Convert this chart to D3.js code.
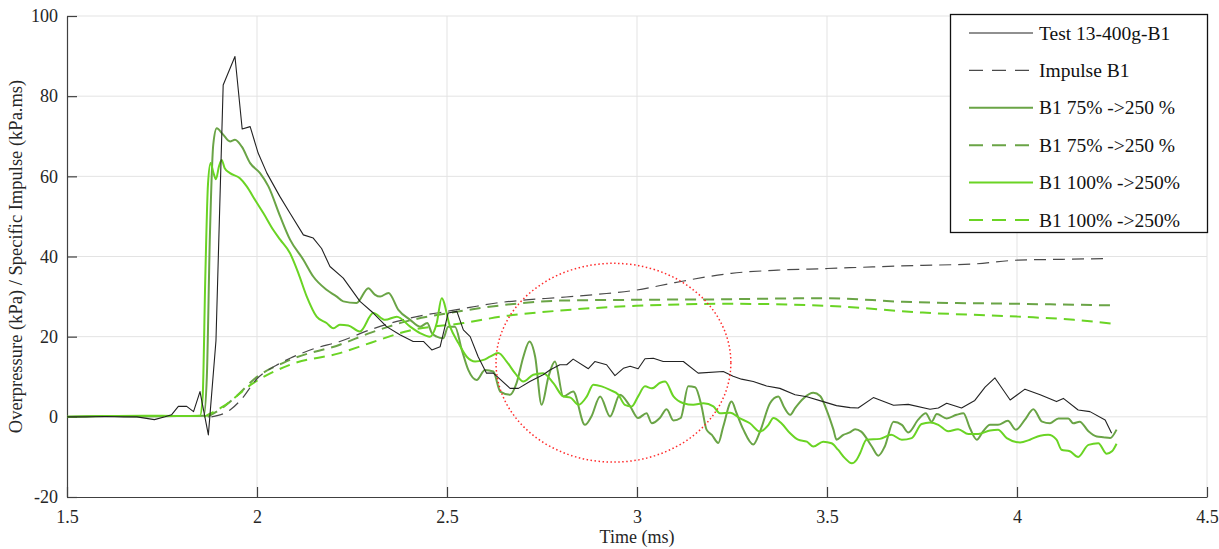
<!DOCTYPE html>
<html>
<head>
<meta charset="utf-8">
<script src="https://cdn.jsdelivr.net/npm/d3@7"></script>
<style>
  html, body { margin: 0; padding: 0; background: #fff; }
  svg { display: block; }
  svg text { font-family: "Liberation Serif", Tinos, "Times New Roman", "DejaVu Serif", serif; }
</style>
</head>
<body>
<svg id="chart" width="1219" height="549"></svg>
<script>
// Overpressure records (kPa) and specific impulse (kPa.ms) against time (ms)
const testB1 = [
  [1.5,0],[1.55,0],[1.6,0.1],[1.65,0],[1.684,0],[1.73,-0.7],[1.758,0],[1.775,0.5],[1.793,2.6],
  [1.815,2.6],[1.833,1.3],[1.85,6.3],[1.872,-4.5],[1.892,19],[1.911,82.8],[1.942,89.9],[1.961,71.8],
  [1.982,72.4],[2.003,65.8],[2.026,60.8],[2.06,55],[2.087,50.8],[2.122,45.4],[2.148,44.6],[2.17,42],
  [2.192,37.5],[2.227,34.6],[2.271,28.8],[2.306,25.9],[2.341,22.5],[2.376,20.5],[2.411,18.8],
  [2.438,18.8],[2.46,16.7],[2.482,17.5],[2.503,25.9],[2.526,26.3],[2.543,21.7],[2.561,20],
  [2.582,15],[2.604,10.9],[2.622,10.9],[2.666,7.1],[2.688,7.1],[2.718,8.8],[2.753,10.5],
  [2.771,11.7],[2.797,13],[2.815,13],[2.832,14.4],[2.872,12],[2.889,13.8],[2.92,13],[2.942,10.3],
  [2.964,12.1],[2.982,12.6],[3.003,12],[3.021,14.5],[3.043,14.6],[3.069,13.8],[3.122,13.8],
  [3.161,10.9],[3.227,11.3],[3.253,10.1],[3.275,9.4],[3.306,8.8],[3.341,7.7],[3.376,7.1],
  [3.416,5.5],[3.447,5],[3.49,3.8],[3.525,2.8],[3.561,2.3],[3.582,2.2],[3.622,4.8],[3.675,2.9],
  [3.714,3.1],[3.771,1.9],[3.793,2.2],[3.815,3.4],[3.854,2.2],[3.889,4.1],[3.916,7.4],[3.942,9.7],
  [3.982,4.2],[4.021,6.9],[4.061,5.5],[4.104,3.8],[4.122,4.6],[4.161,1.7],[4.192,1.3],[4.232,-0.8],
  [4.249,-4.1]
];

const impulseB1 = [
  [1.88,0],[1.929,1.7],[1.96,4.5],[2.0,9.5],[2.05,12.8],[2.087,14.6],[2.15,17],[2.218,18.8],
  [2.3,21.8],[2.368,23.8],[2.43,25.2],[2.5,26.3],[2.56,27.3],[2.63,28.4],[2.7,29.1],[2.8,29.8],
  [2.9,30.6],[2.997,31.6],[3.1,33.5],[3.248,35.8],[3.37,36.6],[3.5,37],[3.62,37.4],[3.752,37.8],
  [3.88,38.1],[4.003,39.1],[4.12,39.3],[4.244,39.5]
];

const sim75 = [
  [1.5,0],[1.6,0.2],[1.7,0.1],[1.8,0.2],[1.86,0.3],[1.868,10],[1.876,45],[1.885,68],[1.894,72],
  [1.91,70.5],[1.929,68.7],[1.942,69.1],[1.96,67.4],[1.982,63.3],[2.008,60.8],[2.03,57.5],
  [2.061,50],[2.087,44.2],[2.122,39.2],[2.148,35],[2.183,31.7],[2.21,30],[2.227,28.8],[2.262,28.4],
  [2.293,32.1],[2.31,30.5],[2.324,30],[2.346,30.9],[2.372,26.7],[2.403,24.2],[2.429,22.5],
  [2.448,23.4],[2.46,20.9],[2.473,20],[2.49,19.6],[2.503,22.5],[2.521,22.5],[2.539,16.7],
  [2.556,11.7],[2.578,9.2],[2.6,11.7],[2.622,11.3],[2.64,6.3],[2.666,5.5],[2.683,8.4],[2.701,15],
  [2.717,18.8],[2.732,15],[2.749,3],[2.767,10],[2.784,13.8],[2.806,5.1],[2.832,6.3],[2.863,-2],
  [2.88,0.1],[2.903,5.1],[2.929,0.1],[2.955,5.5],[2.982,2.6],[3.003,-0.3],[3.025,0.9],[3.039,-1.6],
  [3.06,-0.3],[3.078,1.9],[3.096,-0.9],[3.115,-0.3],[3.135,7.6],[3.153,7.4],[3.17,2.6],[3.183,-3.2],
  [3.197,-4.5],[3.214,-6.5],[3.227,-2.4],[3.249,3.8],[3.262,0.9],[3.28,-3.2],[3.306,-6.9],
  [3.324,-3.6],[3.35,3.4],[3.372,5.1],[3.386,2.6],[3.403,0.5],[3.416,2.2],[3.438,4.6],[3.464,6],
  [3.482,5.2],[3.499,1.7],[3.517,-3.2],[3.525,-5.7],[3.543,-4.5],[3.56,-3.9],[3.574,-3.1],
  [3.59,-3.7],[3.618,-7.4],[3.635,-9.7],[3.652,-7.4],[3.675,-1.2],[3.697,-2],[3.714,-3.9],
  [3.74,-0.7],[3.76,0.9],[3.775,-1.2],[3.789,0.7],[3.815,-0.4],[3.841,0.5],[3.859,0.9],[3.876,-2.8],
  [3.894,-5.7],[3.911,-3.6],[3.929,-2],[3.95,-2],[3.976,-1],[3.997,-3.2],[4.021,-0.7],[4.043,1.9],
  [4.066,-1.2],[4.087,-1.6],[4.109,-0.4],[4.135,-0.4],[4.148,-1.6],[4.165,-1.2],[4.188,-3.6],
  [4.21,-4.9],[4.227,-5.1],[4.245,-5.3],[4.262,-3.2]
];

const impulse75 = [
  [1.87,0],[1.91,2.3],[1.95,5.5],[1.99,9.2],[2.087,14.2],[2.218,18],[2.3,21],[2.4,24],[2.5,25.8],
  [2.6,27.3],[2.7,28.4],[2.8,29],[2.997,29.2],[3.2,29.3],[3.5,29.6],[3.7,28.7],[4.0,28.2],[4.254,27.8]
];

const sim100 = [
  [1.5,0],[1.6,0.2],[1.7,0.3],[1.8,0.2],[1.85,0.3],[1.857,5],[1.864,35],[1.871,58],[1.878,63.3],
  [1.885,61],[1.892,59.3],[1.9,62.5],[1.907,64.1],[1.915,62],[1.929,60.8],[1.955,59.5],[1.973,57.5],
  [1.995,54.1],[2.017,50.8],[2.043,46.6],[2.061,44.2],[2.087,40.8],[2.109,35.8],[2.131,30],
  [2.157,25],[2.183,23.4],[2.201,22.1],[2.218,23],[2.24,22.8],[2.271,21.3],[2.306,25.9],
  [2.337,24.2],[2.368,25],[2.403,22.5],[2.429,20.9],[2.455,20],[2.473,23.4],[2.486,29.6],
  [2.508,22.5],[2.53,18.4],[2.552,15],[2.574,13.8],[2.596,14.2],[2.613,15],[2.635,15.9],
  [2.657,13.8],[2.679,10.9],[2.701,8.8],[2.727,10.5],[2.753,10.9],[2.78,8.4],[2.806,5.1],
  [2.825,4.8],[2.846,3],[2.868,5.1],[2.885,8],[2.907,7.6],[2.929,6.7],[2.951,5.5],[2.968,3],
  [2.986,2.6],[3.003,5.1],[3.021,7.6],[3.039,7.1],[3.061,8.5],[3.074,8.8],[3.096,5.1],[3.122,3.4],
  [3.148,3],[3.175,3.4],[3.201,2.6],[3.218,0.9],[3.245,1],[3.271,-0.4],[3.297,-1.6],[3.324,-3.7],
  [3.346,-2],[3.359,-0.3],[3.38,-1.6],[3.403,-4.1],[3.424,-5.7],[3.447,-6.2],[3.464,-7.4],
  [3.49,-6.2],[3.512,-6.6],[3.529,-8.2],[3.547,-10.3],[3.565,-11.6],[3.578,-10.7],[3.587,-9.1],
  [3.604,-5.7],[3.639,-5.5],[3.669,-4.5],[3.697,-5.7],[3.723,-5.3],[3.749,-1.8],[3.771,-1.4],
  [3.793,-2],[3.819,-3.6],[3.845,-3.1],[3.872,-4.3],[3.898,-4.3],[3.929,-3.4],[3.95,-3.2],
  [3.973,-5.3],[4.008,-6.4],[4.034,-5.7],[4.061,-4.7],[4.082,-4.5],[4.104,-5.7],[4.117,-8.2],
  [4.139,-8.6],[4.161,-10],[4.188,-7],[4.214,-6.6],[4.236,-9.2],[4.25,-8.6],[4.262,-6.7]
];

const impulse100 = [
  [1.86,0],[1.911,2.6],[1.99,8.4],[2.087,13],[2.218,15.9],[2.3,18.5],[2.4,21.5],[2.543,23.4],
  [2.65,25.1],[2.796,26.5],[2.997,27.7],[3.248,28.2],[3.5,27.7],[3.752,26],[4.003,25],[4.15,24.2],
  [4.254,23.2]
];

const xTicks = [1.5, 2, 2.5, 3, 3.5, 4, 4.5];
const yTicks = [-20, 0, 20, 40, 60, 80, 100];
const legendLabels = ["Test 13-400g-B1", "Impulse B1", "B1 75% ->250 %", "B1 75% ->250 %", "B1 100% ->250%", "B1 100% ->250%"];

const svg = d3.select("#chart");
const margin = { left: 67, right: 12, top: 16, bottom: 52 };
const W = 1219, H = 549;
const serif = "Liberation Serif, Tinos, Times New Roman, serif";

const x = d3.scaleLinear().domain([1.5, 4.5]).range([margin.left, W - margin.right]);
const y = d3.scaleLinear().domain([-20, 100]).range([H - margin.bottom, margin.top]);

// grid
const grid = svg.append("g");
grid.selectAll("line.gx").data(xTicks.slice(1)).join("line")
  .attr("x1", d => x(d)).attr("x2", d => x(d))
  .attr("y1", y(-20)).attr("y2", y(100))
  .attr("stroke", "#e3e3e3").attr("stroke-width", 1);
grid.selectAll("line.gy").data(yTicks.slice(1)).join("line")
  .attr("y1", d => y(d)).attr("y2", d => y(d))
  .attr("x1", x(1.5)).attr("x2", x(4.5))
  .attr("stroke", "#e3e3e3").attr("stroke-width", 1);

// axes with inward ticks
const xAxis = svg.append("g").attr("transform", `translate(0,${y(-20)})`)
  .call(d3.axisBottom(x).tickValues(xTicks).tickSizeInner(-10).tickSizeOuter(0).tickPadding(13).tickFormat(d => String(d)));
const yAxis = svg.append("g").attr("transform", `translate(${x(1.5)},0)`)
  .call(d3.axisLeft(y).tickValues(yTicks).tickSizeInner(-10).tickSizeOuter(0).tickPadding(9).tickFormat(d => String(d)));
[xAxis, yAxis].forEach(a => {
  a.attr("font-family", serif).attr("font-size", 18);
  a.select(".domain").attr("stroke", "#404040").attr("stroke-width", 1.2);
  a.selectAll(".tick line").attr("stroke", "#404040").attr("stroke-width", 1.2);
  a.selectAll(".tick text").attr("fill", "#262626");
});

// axis titles
svg.append("text").attr("x", x(3)).attr("y", 543).attr("text-anchor", "middle")
  .attr("font-size", 18).attr("fill", "#262626").text("Time (ms)");
svg.append("text").attr("transform", `translate(22,${(y(-20) + y(100)) / 2}) rotate(-90)`)
  .attr("text-anchor", "middle").attr("font-size", 18.5).attr("fill", "#262626")
  .text("Overpressure (kPa) / Specific Impulse (kPa.ms)");

const smooth = d3.line().x(d => x(d[0])).y(d => y(d[1])).curve(d3.curveMonotoneX);
const straight = d3.line().x(d => x(d[0])).y(d => y(d[1]));

const series = [
  { data: impulse75, color: "#6aa446", width: 2, dash: "11,7", gen: smooth },
  { data: impulse100, color: "#6ad424", width: 2, dash: "11,7", gen: smooth },
  { data: impulseB1, color: "#4a4a4a", width: 1.2, dash: "12,7", gen: smooth },
  { data: sim75, color: "#6aa446", width: 2, dash: null, gen: smooth },
  { data: sim100, color: "#6ad424", width: 2, dash: null, gen: smooth },
  { data: testB1, color: "#222222", width: 1.1, dash: null, gen: straight }
];

svg.append("g").selectAll("path").data(series).join("path")
  .attr("d", s => s.gen(s.data))
  .attr("fill", "none")
  .attr("stroke", s => s.color)
  .attr("stroke-width", s => s.width)
  .attr("stroke-dasharray", s => s.dash)
  .attr("stroke-linejoin", "round");

// highlighted region of the late-time oscillations
const ringT = 2.938, ringV = 13.5, ringHalfT = 0.309, ringHalfV = 24.8;
svg.append("ellipse")
  .attr("cx", x(ringT)).attr("cy", y(ringV))
  .attr("rx", x(ringT + ringHalfT) - x(ringT)).attr("ry", y(ringV - ringHalfV) - y(ringV))
  .attr("fill", "none").attr("stroke", "#ff2a2a").attr("stroke-width", 1.5)
  .attr("stroke-dasharray", "1.5,2.5");

// legend
const legendItems = [
  { color: "#222222", width: 1.1, dash: null },
  { color: "#4a4a4a", width: 1.2, dash: "14,9" },
  { color: "#6aa446", width: 2, dash: null },
  { color: "#6aa446", width: 2, dash: "14,9" },
  { color: "#6ad424", width: 2, dash: null },
  { color: "#6ad424", width: 2, dash: "14,9" }
];
const lg = svg.append("g");
lg.append("rect").attr("x", 950.5).attr("y", 14.5).attr("width", 257).attr("height", 218)
  .attr("fill", "#fff").attr("stroke", "#111").attr("stroke-width", 1.3);
legendItems.forEach((it, i) => {
  const cy = 33 + i * 37.4;
  lg.append("line").attr("x1", 969).attr("x2", 1033).attr("y1", cy).attr("y2", cy)
    .attr("stroke", it.color).attr("stroke-width", it.width).attr("stroke-dasharray", it.dash);
  lg.append("text").attr("x", 1039).attr("y", cy + 6.5).attr("font-size", 19.5).attr("fill", "#111")
    .text(legendLabels[i]);
});
</script>
</body>
</html>
